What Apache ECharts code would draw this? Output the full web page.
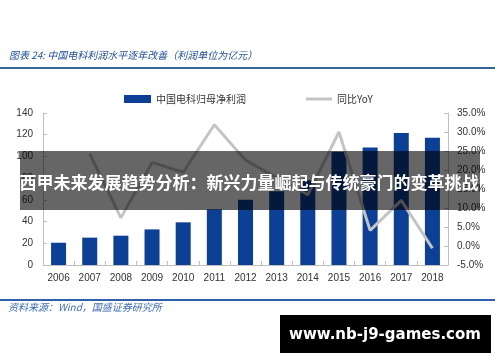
<!DOCTYPE html>
<html>
<head>
<meta charset="utf-8">
<script src="https://cdn.jsdelivr.net/npm/echarts@6/dist/echarts.min.js"></script>
<style>html,body{margin:0;padding:0;background:#fff;}#c{width:500px;height:362px;}</style>
</head>
<body>
<div id="c"></div>
<script>
var years = ['2006','2007','2008','2009','2010','2011','2012','2013','2014','2015','2016','2017','2018'];
var profit = [20.5, 25.2, 27.0, 32.8, 39.3, 51.3, 60.0, 68.0, 78.0, 104.3, 108.3, 121.5, 117.2];
var yoy = [null, 24.3, 7.4, 22.0, 19.4, 31.9, 22.6, 18.0, 13.5, 30.0, 4.1, 12.0, -0.6];
var barName = '中国电科归母净利润';
var lineName = '同比YoY';
var headerText = '图表 24: 中国电科利润水平逐年改善（利润单位为亿元）';
var sourceText = '资料来源：Wind，国盛证券研究所';
var bandText = '西甲未来发展趋势分析：新兴力量崛起与传统豪门的变革挑战';
var siteText = 'www.nb-j9-games.com';

var numFont = '"Liberation Sans", Arial, sans-serif';
var cjkFont = '"Noto Sans CJK SC", sans-serif';
var chart = echarts.init(document.getElementById('c'), null, {renderer: 'canvas'});
chart.setOption({
  animation: false,
  backgroundColor: '#fff',
  grid: {left: 43, right: 52, top: 113, bottom: 97},
  legend: [
    {data: [barName], left: 119, top: 89, icon: 'rect', itemWidth: 27, itemHeight: 8,
     textStyle: {fontSize: 10, fontFamily: cjkFont, color: '#333'}},
    {data: [{name: lineName, icon: 'rect', itemStyle: {color: '#c4c4c4'}}], left: 301, top: 89, itemWidth: 26, itemHeight: 3,
     textStyle: {fontSize: 10, fontFamily: cjkFont, color: '#333'}}
  ],
  xAxis: {
    type: 'category', data: years, boundaryGap: true,
    axisLine: {lineStyle: {color: '#bfbfbf', width: 1}},
    axisTick: {show: true, inside: true, length: 4, lineStyle: {color: '#bfbfbf'}},
    axisLabel: {fontSize: 10, fontFamily: numFont, color: '#333', margin: 8}
  },
  yAxis: [
    {type: 'value', min: 0, max: 140, interval: 20,
     axisLine: {show: true, lineStyle: {color: '#bfbfbf'}},
     axisTick: {show: true, inside: true, length: 4, lineStyle: {color: '#bfbfbf'}},
     splitLine: {show: false},
     axisLabel: {fontSize: 10, fontFamily: numFont, color: '#333', margin: 10}},
    {type: 'value', min: -5, max: 35, interval: 5, position: 'right',
     axisLine: {show: true, lineStyle: {color: '#bfbfbf'}},
     axisTick: {show: true, inside: true, length: 4, lineStyle: {color: '#bfbfbf'}},
     splitLine: {show: false},
     axisLabel: {fontSize: 10, fontFamily: numFont, color: '#333', margin: 9,
       formatter: function (v) { return v.toFixed(1) + '%'; }}}
  ],
  series: [
    {name: barName, type: 'bar', data: profit, barWidth: 15, yAxisIndex: 0,
     itemStyle: {color: '#0b4096'}},
    {name: lineName, type: 'line', data: yoy, yAxisIndex: 1, symbol: 'none',
     lineStyle: {color: '#c4c4c4', width: 3}, itemStyle: {color: '#c4c4c4'},
     label: {show: true, position: 'right', distance: 9, fontSize: 10, fontFamily: numFont, color: '#333',
       formatter: function (p) { return p.value == null ? '' : p.value.toFixed(1) + '%'; }}}
  ],
  graphic: [
    {type: 'text', x: 9, y: 55, style: {text: headerText, font: 'italic 10px ' + cjkFont, fill: '#1f4f9a', textVerticalAlign: 'middle'}},
    {type: 'line', shape: {x1: 0, y1: 68, x2: 495, y2: 68}, style: {stroke: '#356495', lineWidth: 2}},
    {type: 'line', shape: {x1: 0, y1: 300, x2: 495, y2: 300}, style: {stroke: '#2d5fab', lineWidth: 2}},
    {type: 'text', x: 8, y: 307, style: {text: sourceText, font: 'italic 10px ' + cjkFont, fill: '#3a6cb5', textVerticalAlign: 'middle'}},
    {type: 'rect', z: 100, shape: {x: 20, y: 151, width: 460, height: 59}, style: {fill: 'rgba(0,0,0,0.6)'}},
    {type: 'text', z: 101, x: 249, y: 183, style: {text: bandText, font: 'bold 17px ' + cjkFont, fill: '#fff', textAlign: 'center', textVerticalAlign: 'middle'}},
    {type: 'rect', z: 100, shape: {x: 280, y: 315, width: 211, height: 38}, style: {fill: '#000'}},
    {type: 'text', z: 101, x: 385, y: 335, style: {text: siteText, font: 'bold 15px "DejaVu Sans", sans-serif', fill: '#fff', textAlign: 'center', textVerticalAlign: 'middle'}}
  ]
});
</script>
</body>
</html>
